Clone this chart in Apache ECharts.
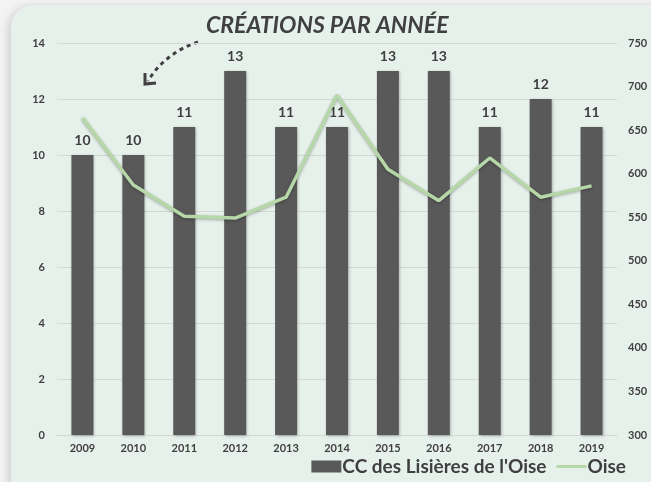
<!DOCTYPE html>
<html><head><meta charset="utf-8">
<script src="https://cdn.jsdelivr.net/npm/echarts@6/dist/echarts.min.js"></script>
<style>html,body{margin:0;padding:0;background:#f2f3f2;}#c{width:651px;height:482px;}</style>
</head><body><div id="c"></div>
<script>
const years = ['2009','2010','2011','2012','2013','2014','2015','2016','2017','2018','2019'];
const ccValues = [10,10,11,13,11,11,13,13,11,12,11];
const oiseValues = [664,587,551,549,573,690,605,569,618,573,586];
const leftTicks = [0,14,2];
const rightTicks = [300,750,50];
const chart = echarts.init(document.getElementById('c'));
const txt = '#3f3f3f';
const fnt = 'Lato';
chart.setOption({
  animation:false,
  backgroundColor:'transparent',
  graphic:[
    {type:'rect',z:-10,shape:{x:11,y:5,width:700,height:520,r:22},style:{fill:'#e7f1ec',shadowBlur:10,shadowColor:'rgba(0,0,0,0.18)',shadowOffsetX:-2,shadowOffsetY:2}},
    {type:'text',left:206,top:14,style:{text:'CRÉATIONS PAR ANNÉE',font:'italic bold 23px Lato',fill:'#404040'}},
    {type:'bezierCurve',shape:{x1:198,y1:42,x2:148,y2:81,cpx1:176,cpy1:49,cpx2:158,cpy2:64},style:{stroke:'#404040',lineWidth:3,lineDash:[4,4],fill:null}},
    {type:'polyline',shape:{points:[[145,73],[145,84],[156,83]]},style:{stroke:'#404040',lineWidth:3,fill:null}}
  ],
  grid:{left:57,right:34,top:43,bottom:47},
  legend:{right:20,bottom:1,itemGap:10,itemWidth:30,itemHeight:12,textStyle:{fontFamily:fnt,fontSize:19,fontWeight:'bold',color:txt,padding:[0,0,0,-4]},
    data:[{name:"CC des Lisières de l'Oise",icon:'rect'},
          {name:'Oise',icon:'path://M0,0H0.5V0.01H0Z M0,4.5H30V7.5H0Z M0,11.99H0.5V12H0Z',itemStyle:{color:'#b6d7a8'}}]},
  xAxis:{type:'category',data:years,axisLine:{lineStyle:{color:'#d3d8d5'}},axisTick:{show:false},
    axisLabel:{fontFamily:fnt,fontWeight:'bold',fontSize:11,color:txt,margin:8}},
  yAxis:[
    {type:'value',min:leftTicks[0],max:leftTicks[1],interval:leftTicks[2],
     axisLabel:{fontFamily:fnt,fontWeight:'bold',fontSize:11,color:txt,margin:12},
     splitLine:{lineStyle:{color:'#d3d8d5'}},axisLine:{show:false},axisTick:{show:false}},
    {type:'value',min:rightTicks[0],max:rightTicks[1],interval:rightTicks[2],
     axisLabel:{fontFamily:fnt,fontWeight:'bold',fontSize:11,color:txt,margin:11},
     splitLine:{show:false},axisLine:{show:false},axisTick:{show:false}}
  ],
  series:[
    {name:"CC des Lisières de l'Oise",type:'bar',data:ccValues,barWidth:22,yAxisIndex:0,
     itemStyle:{color:'#595959',shadowBlur:3,shadowColor:'rgba(0,0,0,0.3)',shadowOffsetX:1,shadowOffsetY:1},
     label:{show:true,position:'top',distance:8,fontFamily:fnt,fontWeight:'bold',fontSize:14,color:txt}},
    {name:'Oise',type:'line',data:oiseValues,yAxisIndex:1,symbol:'none',
     lineStyle:{color:'#b6d7a8',width:3.5,shadowBlur:3,shadowColor:'rgba(0,0,0,0.3)',shadowOffsetY:1},itemStyle:{color:'#b6d7a8'}}
  ]
});
</script></body></html>
